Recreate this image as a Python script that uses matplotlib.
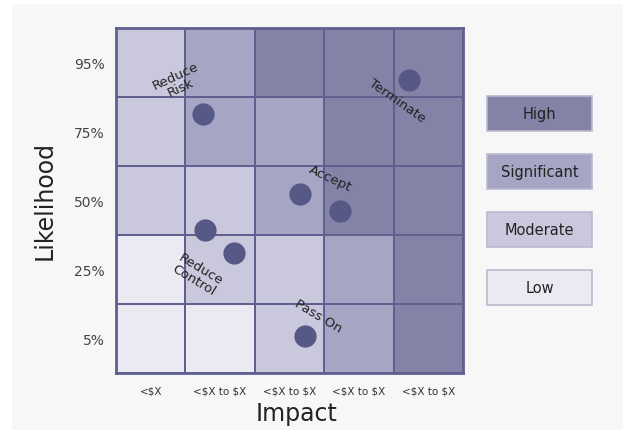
import matplotlib
matplotlib.use("Agg")
import matplotlib.pyplot as plt
import numpy as np
from matplotlib.colors import ListedColormap
from matplotlib.patches import Rectangle

plt.rcParams['font.family'] = ['DejaVu Sans']
plt.rcParams['text.parse_math'] = False

# Risk levels and their fills
levels = ["Low", "Moderate", "Significant", "High"]
level_colors = ["#ebe9f2", "#cac8dc", "#a6a5c3", "#8482a6"]

# Axis categories
impact_labels = ["<$X", "<$X to $X", "<$X to $X", "<$X to $X", "<$X to $X"]
likelihood_labels = ["5%", "25%", "50%", "75%", "95%"]

# Level index of every cell, rows from 5% (bottom) up to 95% (top)
cell_levels = [
    [0, 0, 1, 2, 3],
    [0, 1, 1, 2, 3],
    [1, 1, 2, 3, 3],
    [1, 2, 2, 3, 3],
    [1, 2, 3, 3, 3],
]

# Risk items (impact, likelihood) in grid units
risk_x = [1.25, 4.22, 2.65, 3.23, 1.28, 1.70, 2.72]
risk_y = [3.75, 4.25, 2.59, 2.35, 2.07, 1.74, 0.54]

# Response annotations: text, position, rotation
notes = ["Reduce\nRisk", "Terminate", "Accept", "Reduce\nControl", "Pass On"]
note_x = [0.90, 4.05, 3.09, 1.17, 2.91]
note_y = [4.23, 3.96, 2.83, 1.43, 0.84]
note_rot = [25, -35, -25, -31, -31]

W, H = 623, 431
fig = plt.figure(figsize=(W / 100, H / 100), dpi=100)
fig.patch.set_facecolor("white")
fig.patches.append(Rectangle((12 / W, 0), 1, 1 - 5 / H, transform=fig.transFigure,
                             facecolor="#f7f7f7", edgecolor="none", zorder=-10))

ax = fig.add_axes([116 / W, 1 - 374 / H, (463 - 116) / W, (374 - 29) / H])
grid_color = "#5f6090"
cmap = ListedColormap(level_colors)
ax.pcolormesh(np.arange(6), np.arange(6), np.array(cell_levels), cmap=cmap,
              vmin=-0.5, vmax=3.5, edgecolors=grid_color, linewidth=1.4)
ax.set_xlim(0, 5)
ax.set_ylim(0, 5)
for s in ax.spines.values():
    s.set_color(grid_color)
    s.set_linewidth(2)

ax.plot(risk_x, risk_y, "o", color="#565886", markersize=16, markeredgewidth=0, zorder=5)

for t, x, y, r in zip(notes, note_x, note_y, note_rot):
    ax.text(x, y, t, rotation=r, ha="center", va="center", fontsize=9.5,
            color="#222222", linespacing=1.0, rotation_mode="anchor", zorder=6)

ax.set_xticks(np.arange(5) + 0.5)
ax.set_xticklabels(impact_labels, fontsize=7.5, color="#333333")
ax.set_yticks(np.arange(5) + 0.5)
ax.set_yticklabels(likelihood_labels, fontsize=10, color="#444444")
ax.tick_params(length=0, pad=8)
ax.tick_params(axis="x", pad=9)

fig.text(297 / W, 1 - 414 / H, "Impact", ha="center", va="center",
         fontsize=17, color="#222222")
fig.text(45 / W, 1 - 201 / H, "Likelihood", ha="center", va="center",
         rotation=90, fontsize=17, color="#222222")

# Legend boxes
box_tops = [97, 155, 213, 271]
for name, col, top in zip(levels[::-1], level_colors[::-1], box_tops):
    fig.patches.append(Rectangle((487 / W, 1 - (top + 35) / H), 105 / W, 35 / H,
                                 transform=fig.transFigure, facecolor=col,
                                 edgecolor="#bcbad0", linewidth=1.2))
    fig.text(539.5 / W, 1 - (top + 17.5) / H, name, ha="center", va="center",
             fontsize=10.5, color="#222222")

fig.savefig("out.png", dpi=100, facecolor=fig.get_facecolor())
